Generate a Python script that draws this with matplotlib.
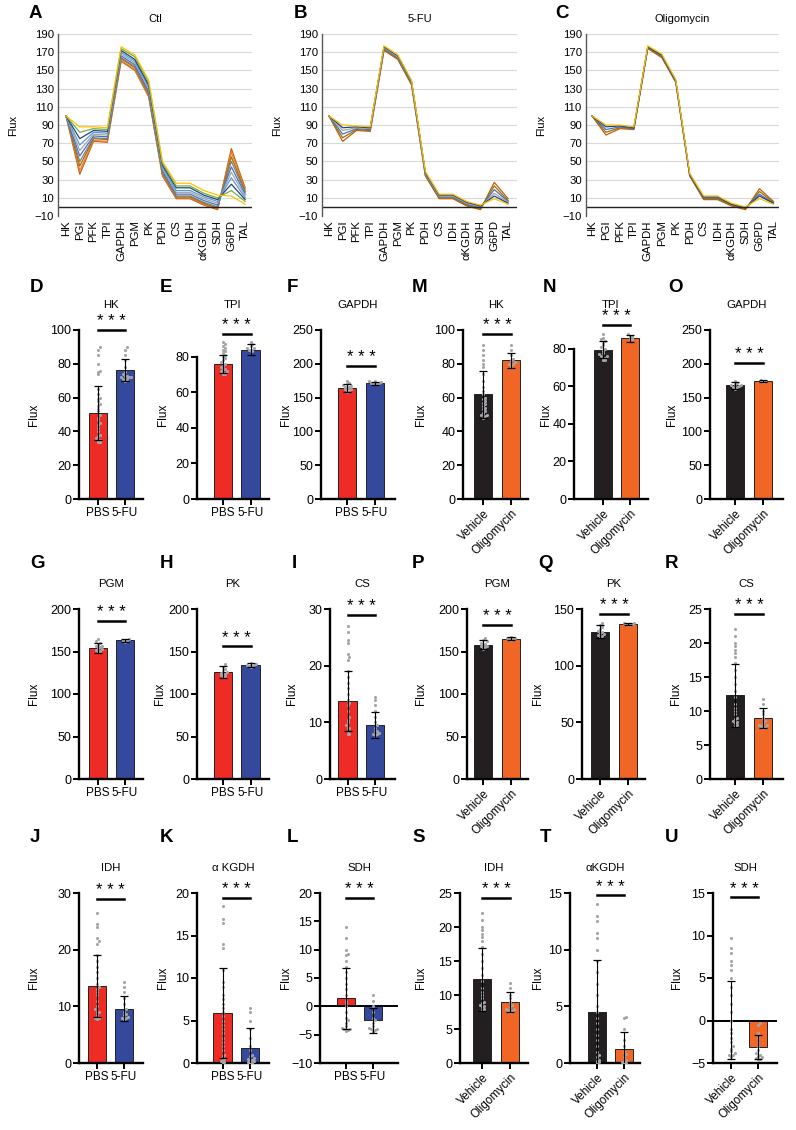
import numpy as np
import matplotlib
matplotlib.use("Agg")
import matplotlib.pyplot as plt

plt.rcParams['font.family'] = ['Liberation Sans', 'DejaVu Sans']

# ---------------- data: flux profiles (panels A-C) ----------------
reactions = ["HK", "PGI", "PFK", "TPI", "GAPDH", "PGM", "PK", "PDH", "CS", "IDH",
             "αKGDH", "SDH", "G6PD", "TAL"]

ctl_lines = [
    [100, 36, 72, 71, 160, 150, 121, 34, 9, 9, 2, -3, 64, 21],
    [100, 40, 73, 72, 161, 151, 122, 35, 10, 10, 3, -2, 60, 19],
    [100, 45, 75, 74, 163, 153, 124, 37, 11, 11, 4, -1, 55, 17],
    [100, 50, 76, 75, 164, 154, 125, 38, 12, 12, 5, 0, 50, 16],
    [100, 56, 78, 77, 166, 156, 127, 40, 14, 14, 7, 2, 44, 14],
    [100, 62, 80, 79, 168, 158, 130, 42, 16, 16, 9, 4, 38, 12],
    [100, 68, 82, 81, 170, 160, 132, 44, 18, 18, 11, 6, 32, 10],
    [100, 75, 84, 83, 172, 162, 134, 46, 21, 21, 13, 8, 25, 8],
    [100, 82, 86, 85, 174, 165, 137, 48, 23, 23, 15, 10, 18, 6],
    [100, 88, 88, 87, 176, 167, 139, 50, 26, 26, 18, 13, 12, 3],
]
fu_lines = [
    [100, 72, 84, 83, 172, 162, 134, 34, 9, 9, 1, -3, 27, 9],
    [100, 76, 85, 84, 173, 163, 135, 35, 10, 10, 2, -2, 23, 7],
    [100, 80, 86, 85, 174, 164, 136, 36, 11, 11, 3, -1, 19, 6],
    [100, 84, 87, 86, 175, 165, 137, 37, 12, 12, 4, 0, 15, 5],
    [100, 87, 88, 87, 176, 166, 138, 38, 13, 13, 5, 1, 12, 4],
    [100, 90, 89, 88, 177, 167, 139, 39, 14, 14, 6, 2, 9, 3],
]
oli_lines = [
    [100, 79, 86, 85, 174, 164, 137, 34, 8, 8, 1, -3, 20, 6],
    [100, 82, 87, 86, 175, 165, 138, 35, 9, 9, 2, -2, 17, 5],
    [100, 85, 88, 86, 176, 166, 138, 35, 10, 10, 3, -1, 14, 4],
    [100, 88, 89, 87, 176, 167, 139, 36, 11, 11, 3, -1, 12, 4],
    [100, 90, 90, 88, 177, 168, 140, 37, 12, 12, 4, 0, 9, 3],
]
line_titles = ["Ctl", "5-FU", "Oligomycin"]

# ---------------- data: bar panels ----------------
groups_fu = ["PBS", "5-FU"]
groups_oli = ["Vehicle", "Oligomycin"]
bar_titles = ["HK", "TPI", "GAPDH", "PGM", "PK", "CS", "IDH", "α KGDH", "SDH",
              "HK", "TPI", "GAPDH", "PGM", "PK", "CS", "IDH", "αKGDH", "SDH"]
bar_means = [[51, 76.5], [76, 84], [164, 171], [154, 163], [126, 134], [13.7, 9.5],
             [13.6, 9.6], [5.9, 1.8], [1.4, -2.5],
             [62, 82], [79.5, 85.5], [168, 174], [158, 165], [130, 137], [12.3, 9.0],
             [12.3, 9.0], [4.5, 1.2], [0.1, -3.1]]
bar_sd = [[16, 6.5], [5, 3], [6, 2], [6, 2], [7, 2], [5.3, 2.3],
          [5.4, 2.2], [5.3, 2.3], [5.4, 2.2],
          [14, 4.5], [4.5, 2], [5, 1.5], [5, 1.5], [6, 1], [4.6, 1.5],
          [4.6, 1.5], [4.6, 1.5], [4.6, 1.4]]
dots = [
    [[34, 34, 35, 35, 36, 37, 38, 40, 42, 44, 45, 47, 48, 50, 52, 53, 55, 56, 58, 59, 60, 62, 65, 74, 75, 76, 80, 85, 88, 90],
     [70, 71, 71, 72, 72, 72, 73, 73, 74, 75, 78, 82, 85, 88, 90]],
    [[70, 70, 71, 71, 72, 72, 73, 73, 74, 75, 76, 77, 78, 79, 80, 81, 82, 83, 84, 85, 86, 87, 88],
     [83, 83, 84, 84, 84, 85, 85, 86, 87, 88]],
    [[158, 160, 161, 162, 163, 164, 165, 166, 167, 168, 170, 172, 175],
     [170, 171, 171, 172, 172, 173, 174, 175]],
    [[150, 151, 152, 153, 154, 155, 156, 157, 158, 160, 162, 165],
     [161, 162, 162, 163, 163, 164, 165]],
    [[120, 121, 122, 123, 124, 125, 126, 128, 130, 132, 135],
     [132, 133, 133, 134, 134, 135, 136]],
    [[8, 8, 8.5, 9, 9, 9.5, 10, 10.5, 11, 12, 13, 13.5, 14, 15, 16, 17, 18, 19, 21, 21.5, 22, 24, 24.5, 26, 27],
     [7.8, 8, 8, 8.2, 8.5, 8.5, 9, 9.5, 10, 11, 12, 13, 14, 14.5]],
    [[7.8, 8, 8, 8.5, 9, 9, 9.5, 10, 11, 12, 12.5, 13, 13.5, 14, 15, 16, 17, 18, 19, 21, 21.5, 22, 24, 24.5, 26.5],
     [7.6, 7.8, 8, 8, 8.2, 8.5, 8.6, 9, 9.5, 10.5, 11.5, 12.5, 13.5, 14.3]],
    [[0, 0.1, 0.2, 0.3, 0.5, 0.8, 1, 1.5, 2, 2.5, 3, 3.5, 4, 4.5, 5, 5.5, 6, 6.5, 7, 7.5, 8, 9, 9.5, 11, 13.5, 14, 16.5, 17, 18.5],
     [0, 0, 0.1, 0.2, 0.3, 0.4, 0.5, 0.6, 0.8, 1, 1.5, 2, 3, 4, 5, 6, 6.5]],
    [[-4.3, -4.2, -4, -4, -3.8, -3.5, -3, -2.5, -2, -1, 0, 0.5, 1, 2, 3, 4, 5, 6, 7, 8, 9, 9.3, 10, 12, 14],
     [-4.5, -4.3, -4.2, -4, -4, -3.8, -3.5, -3, -2.5, -2, -1, 0, 1, 2]],
    [[48, 49, 50, 50, 51, 52, 53, 54, 55, 56, 57, 58, 59, 60, 62, 64, 66, 70, 74, 78, 80, 82, 85, 88, 91],
     [78, 79, 80, 80, 81, 82, 83, 85, 88, 91]],
    [[74, 74, 75, 75, 76, 76, 77, 78, 79, 80, 81, 82, 83, 84, 85, 86, 88],
     [85, 85, 86, 86, 87, 87, 88]],
    [[163, 164, 165, 166, 167, 168, 169, 170, 172, 175],
     [173, 174, 174, 175, 175, 176]],
    [[153, 154, 155, 156, 157, 158, 159, 160, 162, 164, 166],
     [164, 165, 165, 166, 166, 167]],
    [[125, 126, 127, 128, 129, 130, 131, 132, 134, 136, 138],
     [136, 136, 137, 137, 138, 138]],
    [[7.8, 8, 8.2, 8.4, 8.6, 8.8, 9, 9.5, 10, 10.5, 11, 12, 13, 14, 15, 16, 17, 18, 18.5, 19, 19.5, 20, 21, 22],
     [7.5, 7.7, 7.8, 8, 8, 8.3, 8.5, 9, 9.5, 10, 11, 11.8]],
    [[7.8, 8, 8.2, 8.4, 8.6, 8.8, 9, 9.5, 10, 10.5, 11, 12, 13, 14, 15, 16, 17, 18, 18.5, 19, 19.5, 20, 21, 22],
     [7.5, 7.7, 7.8, 8, 8, 8.3, 8.5, 9, 9.5, 10, 11, 11.8]],
    [[0, 0.1, 0.2, 0.3, 0.5, 0.7, 1, 1.5, 2, 2.5, 3, 3.5, 4, 4.5, 5, 6, 7, 8, 9, 10, 11, 11.5, 12.5, 13, 14],
     [0, 0, 0.1, 0.2, 0.3, 0.5, 0.8, 1, 1.5, 2, 3, 4, 4.1]],
    [[-4.3, -4.2, -4, -4, -3.8, -3.6, -3.3, -3, -2.5, -2, -1.5, -1, 0, 1, 2, 3, 4, 5, 6, 6.5, 7, 8, 8.5, 9.7],
     [-4.6, -4.5, -4.4, -4.3, -4.2, -4, -3.8, -3.5, -3, -2.5, -2, -1.5, -0.5, -0.3]],
]
y_limits = [(0, 100), (0, 95), (0, 250), (0, 200), (0, 200), (0, 30), (0, 30), (0, 20), (-10, 20),
            (0, 100), (0, 90), (0, 250), (0, 200), (0, 150), (0, 25), (0, 25), (0, 15), (-5, 15)]
y_steps = [20, 20, 50, 50, 50, 10, 10, 5, 5, 20, 20, 50, 50, 50, 5, 5, 5, 5]
y_top_tick = [100, 80, 250, 200, 200, 30, 30, 20, 20, 100, 80, 250, 200, 150, 25, 25, 15, 15]

# ---------------- layout (pixels) ----------------
W, H = 796, 1130
fig = plt.figure(figsize=(W / 100, H / 100), dpi=100)


def px_axes(left, top, right, bottom):
    return fig.add_axes([left / W, 1 - bottom / H, (right - left) / W, (bottom - top) / H])


def px_text(x, y, s, **kw):
    fig.text(x / W, 1 - y / H, s, **kw)


# line panels
line_geo = [(58, 252, -0.58, 13.5), (322, 517, -0.5, 13.65), (586, 779, -0.43, 13.4)]
line_letters = [("A", 29), ("B", 294), ("C", 555)]
line_colors = ["#C55A11", "#ED7D31", "#997300", "#7F7F7F", "#4472C4", "#A5A5A5",
               "#5B9BD5", "#264478", "#70AD47", "#FFC000"]

for i, lines in enumerate([ctl_lines, fu_lines, oli_lines]):
    l, r, x0, x1 = line_geo[i]
    ax = px_axes(l, 34, r, 216)
    xs = np.arange(len(reactions))
    n = len(lines)
    for j, ln in enumerate(lines):
        c = line_colors[int(round(j * (len(line_colors) - 1) / max(n - 1, 1)))]
        ax.plot(xs, ln, color=c, lw=0.9)
    ax.axhline(0, color="#222222", lw=1.0)
    ax.set_xlim(x0, x1)
    ax.set_ylim(-10, 190)
    ax.set_yticks(np.arange(-10, 191, 20))
    ax.set_xticks(xs)
    ax.set_xticklabels(reactions, rotation=90, fontsize=8.2)
    ax.tick_params(axis="both", length=0, labelsize=8.2, pad=3)
    ax.yaxis.grid(True, color="#D9D9D9", lw=0.8)
    ax.get_ygridlines()[0].set_visible(False)
    ax.set_axisbelow(True)
    for s in ["top", "right", "bottom"]:
        ax.spines[s].set_visible(False)
    ax.spines["left"].set_color("#595959")
    ax.spines["left"].set_linewidth(1.0)
    ax.set_title(line_titles[i], fontsize=8, pad=9)
    px_text(l - 45, 125, "Flux", rotation=90, fontsize=8, ha="center", va="center")
    px_text(line_letters[i][1], 13, line_letters[i][0], fontsize=13.5, fontweight="bold",
            ha="left", va="center")

# bar panels: (left, right, centre0, centre1)
bar_geo = [(79, 143, 98, 125), (197, 269, 223, 250.5), (321, 395, 347, 375),
           (79, 143, 98, 125), (197, 269, 223, 250.5), (330, 395, 347.5, 375),
           (79, 143, 97, 124), (197, 269, 222.5, 250), (320, 398, 346, 373),
           (463, 528, 483, 511), (574, 648, 603, 630), (710, 783, 735, 763),
           (467, 528, 483, 511), (582, 645, 600, 628), (710, 783, 735, 763),
           (460, 528, 482, 510), (570, 640, 597, 624), (713, 777, 731, 758)]
row_px = [(330, 499), (609, 779), (893, 1063)]
bar_letters = list("DEFGHIJKLMNOPQRSTU")
letter_x = [30, 160, 287, 30, 160, 292, 30, 160, 287, 412, 543, 668, 412, 538, 665, 412, 540, 665]
letter_y = [288, 563, 837]
flux_x = [34, 163, 286, 34, 160, 292, 34, 163, 286, 421, 546, 672, 421, 538, 676, 421, 538, 677]
sig_y = [100, 93, 197, 186, 156, 29, 29, 19.4, 19.1, 97.6, 92.6, 201, 181, 145.6, 24.3, 24.3, 14.8, 14.5]
colors_fu = ["#EE2B24", "#34489C"]
colors_oli = ["#231F20", "#F26625"]
dot_color = "#A2A5AA"


def swarm(vals, center, span):
    vals = np.sort(np.asarray(vals, dtype=float))
    binw = span / 45.0
    counts = {}
    xs = []
    for v in vals:
        b = int(round(v / binw))
        k = counts.get(b, 0)
        counts[b] = k + 1
        off = ((k + 1) // 2) * 0.07 * (1 if k % 2 else -1)
        xs.append(center + max(-0.3, min(0.3, off)))
    return np.array(xs), vals


for i in range(18):
    l, r, c0, c1 = bar_geo[i]
    row = (i % 9) // 3
    top, bottom = row_px[row]
    ax = px_axes(l, top, r, bottom)
    sp = c1 - c0
    ymin, ymax = y_limits[i]
    fu = i < 9
    cols = colors_fu if fu else colors_oli
    groups = groups_fu if fu else groups_oli
    xpos = np.array([0, 1])
    ax.bar(xpos, bar_means[i], width=0.66, color=cols, edgecolor="#222222", lw=0.7, zorder=2)
    if ymin < 0:
        ax.axhline(0, color="black", lw=1.4, zorder=2.5)
    for g in range(2):
        xs, ys = swarm(dots[i][g], xpos[g], ymax - ymin)
        ax.scatter(xs, ys, s=5, color=dot_color, zorder=3, linewidths=0)
    ax.errorbar(xpos, bar_means[i], yerr=bar_sd[i], fmt="none", ecolor="black",
                elinewidth=0.8, capsize=3, capthick=0.9, zorder=4)
    ax.set_xlim((l - c0) / sp, (r - c0) / sp)
    ax.set_ylim(ymin, ymax)
    ax.set_yticks(np.arange(ymin, y_top_tick[i] + 0.01, y_steps[i]))
    ax.set_xticks(xpos)
    if fu:
        ax.set_xticklabels(groups, fontsize=8.5)
    else:
        ax.set_xticklabels(groups, fontsize=8.5, rotation=45, ha="right", rotation_mode="anchor")
    ax.tick_params(axis="y", labelsize=9, pad=1.5)
    ax.tick_params(axis="both", length=4, width=1.4)
    ax.tick_params(axis="x", pad=2)
    for s in ["top", "right"]:
        ax.spines[s].set_visible(False)
    for s in ["left", "bottom"]:
        ax.spines[s].set_linewidth(1.7)
    ax.spines["left"].set_bounds(ymin, y_top_tick[i])
    ax.plot([0, 1], [sig_y[i], sig_y[i]], color="black", lw=1.8, clip_on=False, zorder=5)
    ax.annotate("* * *", (0.5, sig_y[i]), xytext=(0, 0.5), textcoords="offset points",
                ha="center", va="bottom", fontsize=12, annotation_clip=False)
    ax.text(0.5, 1 + 25 / (bottom - top), bar_titles[i], transform=ax.transAxes,
            ha="center", va="center", fontsize=8.2)
    px_text(flux_x[i], (top + bottom) / 2, "Flux", rotation=90, fontsize=8.5,
            ha="center", va="center")
    px_text(letter_x[i], letter_y[row], bar_letters[i], fontsize=13.5, fontweight="bold",
            ha="left", va="center")

fig.savefig("out.png", dpi=100)
